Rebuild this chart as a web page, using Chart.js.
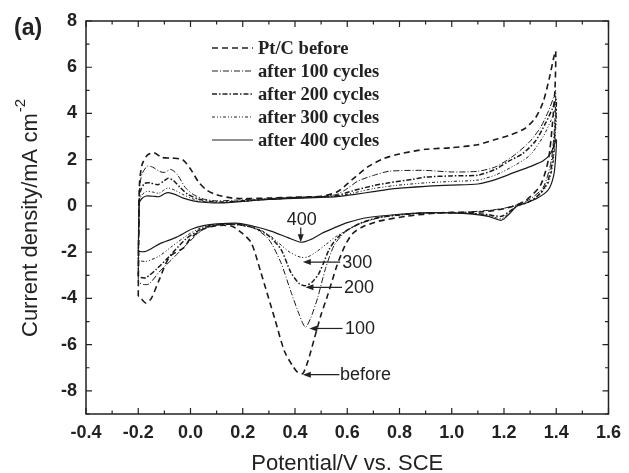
<!DOCTYPE html>
<html>
<head>
<meta charset="UTF-8">
<title>Cyclic voltammograms</title>
<style>
  body { margin: 0; background: #fff; }
  #wrap { width: 629px; height: 473px; }
</style>
</head>
<body>
<div id="wrap"><canvas id="cv"></canvas></div>
<script src="https://cdn.jsdelivr.net/npm/chart.js"></script>
<script>
// --- data: each loop is the anodic sweep (-0.2 -> 1.4 V) then the cathodic sweep back ---
const beforeV = [-0.2,-0.198,-0.195,-0.185,-0.165,-0.14,-0.11,-0.07,-0.03,0.0,0.03,0.06,0.1,0.15,0.2,0.3,0.4,0.5,0.56,0.62,0.68,0.74,0.8,0.9,1.0,1.1,1.16,1.22,1.28,1.32,1.35,1.375,1.39,1.398,
  1.395,1.385,1.37,1.34,1.29,1.25,1.2,1.12,1.0,0.95,0.83,0.72,0.66,0.62,0.59,0.56,0.524,0.5,0.475,0.45,0.43,0.41,0.39,0.36,0.323,0.27,0.233,0.2,0.157,0.1,0.05,0.0,-0.025,-0.08,-0.12,-0.15,-0.17,-0.19,-0.2];
const beforeI = [-3.9,-1.0,1.0,1.8,2.2,2.3,2.1,2.07,2.0,1.6,1.05,0.7,0.48,0.36,0.32,0.34,0.38,0.42,0.6,1.15,1.7,2.05,2.25,2.45,2.52,2.65,2.85,3.05,3.35,3.8,4.5,5.6,6.4,6.7,
  5.0,3.5,2.0,0.9,0.3,0.05,-0.12,-0.25,-0.28,-0.3,-0.44,-0.66,-0.9,-1.2,-1.75,-2.6,-3.9,-4.7,-5.7,-6.7,-7.25,-7.2,-6.9,-6.3,-4.9,-2.9,-1.6,-1.2,-0.87,-0.85,-1.0,-1.4,-1.8,-2.2,-3.2,-4.0,-4.2,-4.0,-3.9];

const c100V = [-0.2,-0.198,-0.195,-0.185,-0.165,-0.145,-0.12,-0.1,-0.075,-0.05,-0.02,0.01,0.05,0.1,0.2,0.3,0.4,0.5,0.56,0.6,0.64,0.7,0.76,0.89,1.0,1.1,1.17,1.24,1.3,1.34,1.37,1.39,1.398,
  1.394,1.38,1.35,1.3,1.25,1.2,1.15,1.05,0.9,0.8,0.72,0.64,0.59,0.55,0.517,0.486,0.46,0.44,0.418,0.384,0.346,0.3,0.25,0.2,0.12,0.05,-0.006,-0.07,-0.12,-0.158,-0.18,-0.2];
const c100I = [-3.3,-0.5,0.8,1.4,1.72,1.68,1.5,1.45,1.58,1.35,0.8,0.5,0.3,0.22,0.27,0.32,0.36,0.4,0.5,0.75,1.07,1.32,1.5,1.54,1.47,1.5,1.7,2.2,2.8,3.4,4.1,4.7,5.0,
  3.5,1.9,0.8,0.3,0.05,-0.1,-0.18,-0.27,-0.3,-0.4,-0.52,-0.8,-1.15,-1.7,-2.7,-4.0,-4.85,-5.25,-4.75,-3.7,-2.45,-1.45,-1.0,-0.85,-0.8,-1.0,-1.57,-2.3,-2.86,-3.37,-3.4,-3.3];

const c200V = [-0.2,-0.198,-0.196,-0.19,-0.175,-0.155,-0.125,-0.1,-0.085,-0.065,-0.04,-0.01,0.03,0.07,0.12,0.2,0.3,0.4,0.5,0.56,0.62,0.7,0.76,0.85,0.9,1.0,1.1,1.17,1.22,1.27,1.32,1.36,1.385,1.4,
  1.395,1.385,1.365,1.33,1.29,1.25,1.22,1.19,1.14,1.08,1.0,0.9,0.8,0.72,0.65,0.6,0.56,0.53,0.51,0.49,0.465,0.437,0.415,0.384,0.346,0.3,0.25,0.18,0.1,0.05,-0.018,-0.08,-0.13,-0.17,-0.19,-0.2];
const c200I = [-3.05,-1.0,0.3,0.7,0.98,1.0,0.92,1.1,1.2,1.1,0.8,0.5,0.3,0.2,0.17,0.22,0.3,0.36,0.4,0.45,0.65,0.88,1.0,1.15,1.25,1.3,1.33,1.6,1.95,2.25,2.8,3.6,4.2,4.6,
  3.2,1.9,1.0,0.45,0.15,0.0,-0.25,-0.45,-0.38,-0.32,-0.3,-0.3,-0.38,-0.5,-0.75,-1.05,-1.4,-1.9,-2.45,-2.95,-3.3,-3.45,-3.35,-2.87,-1.87,-1.3,-0.98,-0.8,-0.82,-0.95,-1.43,-2.17,-2.73,-3.1,-3.1,-3.05];

const c300V = [-0.2,-0.198,-0.196,-0.188,-0.17,-0.145,-0.12,-0.1,-0.085,-0.06,-0.03,0.01,0.06,0.12,0.2,0.3,0.4,0.5,0.56,0.63,0.7,0.78,0.9,1.0,1.1,1.17,1.24,1.3,1.35,1.38,1.4,
  1.396,1.387,1.37,1.33,1.29,1.25,1.22,1.19,1.14,1.08,1.0,0.9,0.8,0.72,0.66,0.61,0.56,0.52,0.486,0.45,0.422,0.38,0.335,0.3,0.25,0.18,0.1,0.05,-0.006,-0.07,-0.12,-0.17,-0.19,-0.2];
const c300I = [-2.35,-0.8,0.2,0.45,0.62,0.6,0.55,0.7,0.78,0.68,0.5,0.3,0.18,0.15,0.2,0.28,0.34,0.38,0.42,0.58,0.75,0.88,1.0,1.06,1.12,1.35,1.75,2.2,3.0,3.7,4.2,
  3.0,1.8,1.0,0.4,0.15,0.0,-0.3,-0.55,-0.42,-0.34,-0.3,-0.3,-0.38,-0.5,-0.7,-0.98,-1.3,-1.65,-1.95,-2.2,-2.22,-2.0,-1.58,-1.25,-0.95,-0.78,-0.8,-0.9,-1.22,-1.74,-2.17,-2.4,-2.38,-2.35];

const c400V = [-0.2,-0.198,-0.196,-0.188,-0.17,-0.145,-0.12,-0.1,-0.085,-0.06,-0.03,0.01,0.06,0.12,0.2,0.3,0.4,0.5,0.56,0.63,0.7,0.78,0.9,1.0,1.1,1.17,1.24,1.3,1.35,1.38,1.4,
  1.397,1.39,1.37,1.33,1.29,1.25,1.22,1.19,1.14,1.08,1.0,0.9,0.8,0.68,0.6,0.55,0.5,0.46,0.422,0.373,0.308,0.25,0.183,0.1,0.05,0.006,-0.055,-0.12,-0.17,-0.19,-0.2];
const c400I = [-1.95,-0.8,0.1,0.3,0.43,0.42,0.4,0.53,0.58,0.5,0.35,0.22,0.15,0.13,0.2,0.28,0.33,0.37,0.4,0.5,0.62,0.75,0.85,0.9,0.95,1.15,1.45,1.7,1.95,2.3,2.87,
  2.0,1.3,0.7,0.35,0.15,0.0,-0.35,-0.62,-0.45,-0.35,-0.3,-0.3,-0.36,-0.5,-0.72,-0.95,-1.2,-1.45,-1.57,-1.37,-1.09,-0.9,-0.75,-0.78,-0.85,-1.0,-1.36,-1.65,-1.96,-1.98,-1.95];

const seriesNames = ['Pt/C before', 'after 100 cycles', 'after 200 cycles', 'after 300 cycles', 'after 400 cycles'];
const xTicks = [-0.4, -0.2, 0.0, 0.2, 0.4, 0.6, 0.8, 1.0, 1.2, 1.4, 1.6];
const yTicks = [-8, -6, -4, -2, 0, 2, 4, 6, 8];

// peak labels with arrows (text centre, arrow start, arrow tip)
const peakText  = ['400', '300', '200', '100', 'before'];
const peakTextV = [0.426, 0.638, 0.645, 0.649, 0.67];
const peakTextI = [-0.62, -2.47, -3.55, -5.32, -7.3];
const arrowFromV = [0.422, 0.573, 0.58, 0.582, 0.57];
const arrowFromI = [-0.93, -2.43, -3.52, -5.3, -7.3];
const arrowToV = [0.422, 0.43, 0.44, 0.455, 0.43];
const arrowToI = [-1.57, -2.43, -3.52, -5.3, -7.3];

function pts(vs, is) {
    return vs.map((v, k) => ({ x: v, y: is[k] }));
}

const styles = [
    { dash: [6, 4], width: 1.6 },
    { dash: [6, 2, 1, 2], width: 1 },
    { dash: [5, 2, 1.5, 2], width: 1.5 },
    { dash: [3, 2, 1, 2, 1, 2], width: 1 },
    { dash: [], width: 1.2 }
];
const loops = [[beforeV, beforeI], [c100V, c100I], [c200V, c200I], [c300V, c300I], [c400V, c400I]];

const datasets = loops.map((l, i) => ({
    label: seriesNames[i],
    data: pts(l[0], l[1]),
    showLine: true,
    borderColor: '#1a1a1a',
    borderWidth: styles[i].width,
    borderDash: styles[i].dash,
    pointRadius: 0,
    tension: 0.25,
    fill: false
}));

function arrow(ctx, x1, y1, x2, y2) {
    const a = Math.atan2(y2 - y1, x2 - x1);
    ctx.beginPath();
    ctx.moveTo(x1, y1);
    ctx.lineTo(x2 - 5 * Math.cos(a), y2 - 5 * Math.sin(a));
    ctx.stroke();
    ctx.beginPath();
    ctx.moveTo(x2, y2);
    ctx.lineTo(x2 - 8 * Math.cos(a) + 3 * Math.sin(a), y2 - 8 * Math.sin(a) - 3 * Math.cos(a));
    ctx.lineTo(x2 - 8 * Math.cos(a) - 3 * Math.sin(a), y2 - 8 * Math.sin(a) + 3 * Math.cos(a));
    ctx.closePath();
    ctx.fill();
}

const decor = {
    id: 'decor',
    afterDraw(chart) {
        const { ctx, chartArea: a, scales: { x, y } } = chart;
        ctx.save();
        ctx.strokeStyle = '#222';
        ctx.fillStyle = '#222';

        // frame
        ctx.lineWidth = 1.5;
        ctx.strokeRect(a.left, a.top, a.right - a.left, a.bottom - a.top);

        // inward ticks on all four sides
        ctx.lineWidth = 1.2;
        ctx.beginPath();
        for (let k = -4; k <= 16; k++) {
            const px = x.getPixelForValue(k / 10);
            const len = k % 2 === 0 ? 6 : 3.5;
            ctx.moveTo(px, a.bottom); ctx.lineTo(px, a.bottom - len);
            ctx.moveTo(px, a.top); ctx.lineTo(px, a.top + len);
        }
        for (let k = -9; k <= 8; k++) {
            const py = y.getPixelForValue(k);
            const len = k % 2 === 0 ? 6 : 3.5;
            ctx.moveTo(a.left, py); ctx.lineTo(a.left + len, py);
            ctx.moveTo(a.right, py); ctx.lineTo(a.right - len, py);
        }
        ctx.stroke();

        // legend
        ctx.font = 'bold 18.5px "Liberation Serif", "Times New Roman", serif';
        ctx.textBaseline = 'middle';
        ctx.textAlign = 'left';
        chart.data.datasets.forEach((ds, i) => {
            const ly = 48 + i * 23;
            ctx.save();
            ctx.lineWidth = ds.borderWidth;
            ctx.setLineDash(ds.borderDash);
            ctx.beginPath();
            ctx.moveTo(212, ly); ctx.lineTo(253, ly);
            ctx.stroke();
            ctx.restore();
            ctx.fillText(ds.label, 258, ly + 1);
        });

        // peak labels
        ctx.font = '18px Arial, "Liberation Sans", sans-serif';
        ctx.textAlign = 'center';
        ctx.lineWidth = 1.2;
        peakText.forEach((t, i) => {
            ctx.fillText(t, x.getPixelForValue(peakTextV[i]), y.getPixelForValue(peakTextI[i]));
            arrow(ctx, x.getPixelForValue(arrowFromV[i]), y.getPixelForValue(arrowFromI[i]),
                x.getPixelForValue(arrowToV[i]), y.getPixelForValue(arrowToI[i]));
        });

        // axis titles
        ctx.font = '22px Arial, "Liberation Sans", sans-serif';
        ctx.textBaseline = 'alphabetic';
        ctx.textAlign = 'center';
        ctx.fillText('Potential/V vs. SCE', (a.left + a.right) / 2, 470);

        ctx.save();
        ctx.translate(37, 337);
        ctx.rotate(-Math.PI / 2);
        ctx.textAlign = 'left';
        const main = 'Current density/mA cm';
        ctx.fillText(main, 0, 0);
        const w = ctx.measureText(main).width;
        ctx.font = '15px Arial, "Liberation Sans", sans-serif';
        ctx.fillText('-2', w + 1, -12);
        ctx.restore();

        // panel tag
        ctx.font = 'bold 23px Arial, "Liberation Sans", sans-serif';
        ctx.textAlign = 'left';
        ctx.fillText('(a)', 14, 35);
        ctx.restore();
    }
};

new Chart(document.getElementById('cv'), {
    type: 'scatter',
    data: { datasets: datasets },
    options: {
        responsive: true,
        maintainAspectRatio: false,
        animation: false,
        layout: { padding: { top: 21, right: 15, left: 0, bottom: 0 } },
        plugins: { legend: { display: false }, tooltip: { enabled: false } },
        scales: {
            x: {
                type: 'linear',
                min: -0.4,
                max: 1.6,
                grid: { display: false, drawTicks: false },
                border: { display: false },
                afterBuildTicks: s => { s.ticks = xTicks.map(v => ({ value: v })); },
                afterFit: s => { s.height = 59; },
                ticks: {
                    padding: 8,
                    color: '#222',
                    font: { family: 'Arial, "Liberation Sans", sans-serif', size: 18, weight: 'bold' },
                    callback: v => v.toFixed(1)
                }
            },
            y: {
                min: -9,
                max: 8,
                grid: { display: false, drawTicks: false },
                border: { display: false },
                afterBuildTicks: s => { s.ticks = yTicks.map(v => ({ value: v })); },
                afterFit: s => { s.width = 86; },
                ticks: {
                    padding: 9,
                    color: '#222',
                    font: { family: 'Arial, "Liberation Sans", sans-serif', size: 18, weight: 'bold' },
                    callback: v => String(v)
                }
            }
        }
    },
    plugins: [decor]
});
</script>
</body>
</html>
